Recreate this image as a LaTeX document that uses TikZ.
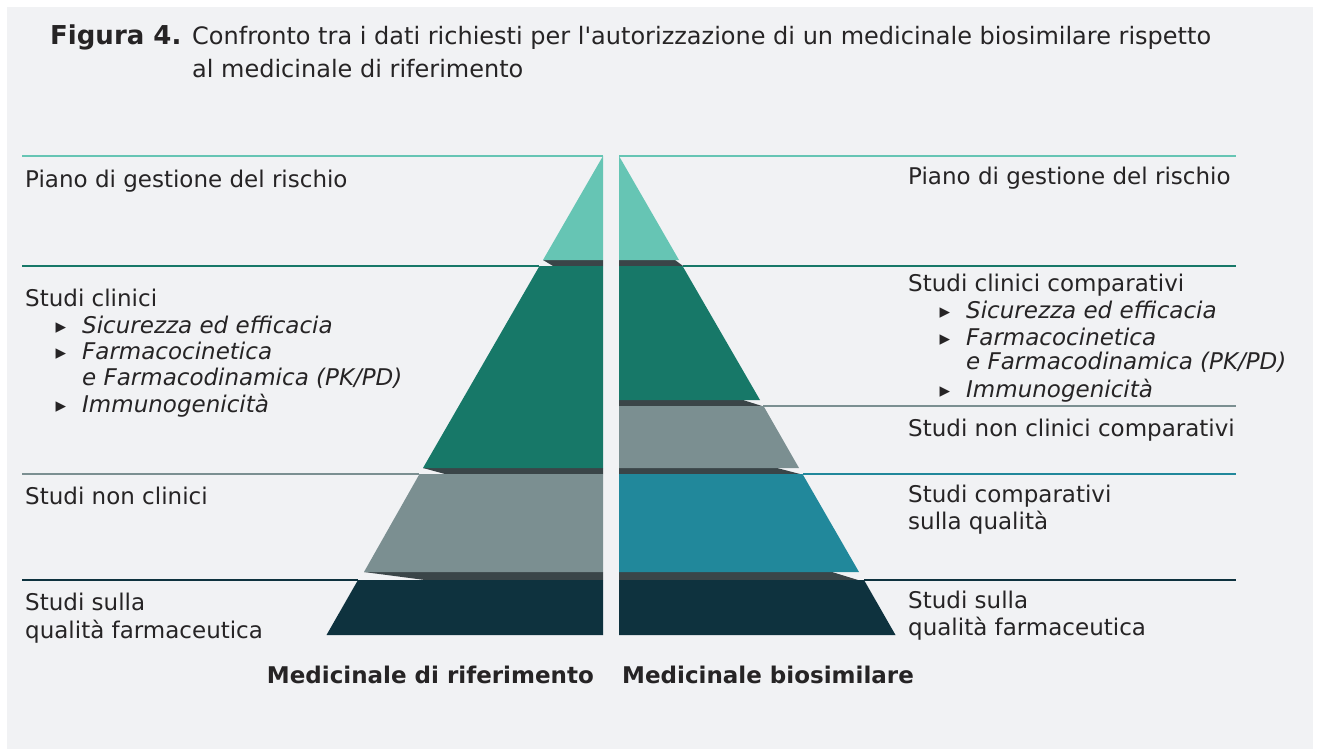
\documentclass[tikz,border=0pt]{standalone}
\usepackage{fontspec}
\setmainfont{DejaVu Sans}[Ligatures=TeXOff]
\usetikzlibrary{positioning}

\definecolor{panel}{HTML}{F1F2F4}
\definecolor{mint}{HTML}{66C5B4}
\definecolor{pine}{HTML}{177868}
\definecolor{slate}{HTML}{7B8F91}
\definecolor{ocean}{HTML}{21889B}
\definecolor{navy}{HTML}{0E323E}
\definecolor{shadowgray}{HTML}{3A4548}
\definecolor{ink}{HTML}{262425}

\newcommand{\blt}{\llap{\fontsize{21}{24}\selectfont\upshape ▸\hspace{16pt}}}

\begin{document}
\begin{tikzpicture}[x=1pt, y=-1pt,
  every node/.style={font=\fontsize{23}{26}\selectfont, text=ink, inner sep=0pt},
  lbl/.style={anchor=base west},
  item/.style={anchor=base west, font=\fontsize{23}{26}\selectfont\itshape},
  head/.style={font=\fontsize{23}{26}\selectfont\bfseries},
  sep/.style={line width=2pt},
  shadow/.style={fill=shadowgray}]

  \useasboundingbox (0,0) rectangle (1317,749);
  \fill[panel] (7,7) rectangle (1313,749);

  % title
  \node[lbl, head, font=\fontsize{26}{30}\selectfont\bfseries] (fig) at (50,45) {Figura 4.};
  \node[lbl, font=\fontsize{24}{28}\selectfont] (cap1) at (192,45) {Confronto tra i dati richiesti per l'autorizzazione di un medicinale biosimilare rispetto};
  \node[lbl, font=\fontsize{24}{28}\selectfont] (cap2) at (192,78) {al medicinale di riferimento};

  % separator lines, left
  \draw[sep, mint]  (22,156) -- (603,156);
  \draw[sep, pine]  (22,266) -- (539,266);
  \draw[sep, slate] (22,474) -- (419,474);
  \draw[sep, navy]  (22,580) -- (358,580);
  % separator lines, right
  \draw[sep, mint]  (619,156) -- (1236,156);
  \draw[sep, pine]  (683,266) -- (1236,266);
  \draw[sep, slate] (763,406) -- (1236,406);
  \draw[sep, ocean] (803,474) -- (1236,474);
  \draw[sep, navy]  (864,580) -- (1236,580);

  % shadows
  \path[shadow] (543,260) -- (603,260) -- (603,266) -- (553,266) -- cycle;
  \path[shadow] (423,468) -- (603,468) -- (603,474) -- (445,474) -- cycle;
  \path[shadow] (364,572) -- (603,572) -- (603,580) -- (425,580) -- cycle;
  \path[shadow] (619,260) -- (675,260) -- (683,266) -- (619,266) -- cycle;
  \path[shadow] (619,400) -- (743,400) -- (762,406) -- (619,406) -- cycle;
  \path[shadow] (619,468) -- (777,468) -- (800,474) -- (619,474) -- cycle;
  \path[shadow] (619,572) -- (832,572) -- (858,580) -- (619,580) -- cycle;

  % reference pyramid
  \fill[mint]  (603,156) -- (543,260) -- (603,260) -- cycle;
  \fill[pine]  (539.5,266) -- (603,266) -- (603,468) -- (423,468) -- cycle;
  \fill[slate] (419.5,474) -- (603,474) -- (603,572) -- (364,572) -- cycle;
  \fill[navy]  (358,580) -- (603,580) -- (603,635) -- (326.5,635) -- cycle;

  % biosimilar pyramid
  \fill[mint]  (619,156) -- (679,260) -- (619,260) -- cycle;
  \fill[pine]  (619,266) -- (682.5,266) -- (760,400) -- (619,400) -- cycle;
  \fill[slate] (619,406) -- (763.5,406) -- (799,468) -- (619,468) -- cycle;
  \fill[ocean] (619,474) -- (802.5,474) -- (859,572) -- (619,572) -- cycle;
  \fill[navy]  (619,580) -- (864,580) -- (895.5,635) -- (619,635) -- cycle;

  % left labels
  \node[lbl] (rmp1) at (25,187) {Piano di gestione del rischio};
  \node[lbl] (clin1) at (25,306) {Studi clinici};
  \node[item] (saf1) at (82,333) {\blt Sicurezza ed efficacia};
  \node[item] (pk1) at (82,359) {\blt Farmacocinetica};
  \node[item] (pd1) at (82,385) {e Farmacodinamica (PK/PD)};
  \node[item] (imm1) at (82,412) {\blt Immunogenicità};
  \node[lbl] (ncl1) at (25,504) {Studi non clinici};
  \node[lbl] (qua1) at (25,610) {Studi sulla};
  \node[lbl] (qub1) at (25,638) {qualità farmaceutica};

  % right labels
  \node[lbl] (rmp2) at (908,184) {Piano di gestione del rischio};
  \node[lbl] (clin2) at (908,291) {Studi clinici comparativi};
  \node[item] (saf2) at (966,318) {\blt Sicurezza ed efficacia};
  \node[item] (pk2) at (966,345) {\blt Farmacocinetica};
  \node[item] (pd2) at (966,369) {e Farmacodinamica (PK/PD)};
  \node[item] (imm2) at (966,397) {\blt Immunogenicità};
  \node[lbl] (ncl2) at (908,436) {Studi non clinici comparativi};
  \node[lbl] (cmp2) at (908,502) {Studi comparativi};
  \node[lbl] (cmq2) at (908,529) {sulla qualità};
  \node[lbl] (qua2) at (908,608) {Studi sulla};
  \node[lbl] (qub2) at (908,635) {qualità farmaceutica};

  % pyramid titles
  \node[head, anchor=base east] (ref) at (594,683) {Medicinale di riferimento};
  \node[head, anchor=base west] (bio) at (622,683) {Medicinale biosimilare};
\end{tikzpicture}
\end{document}
